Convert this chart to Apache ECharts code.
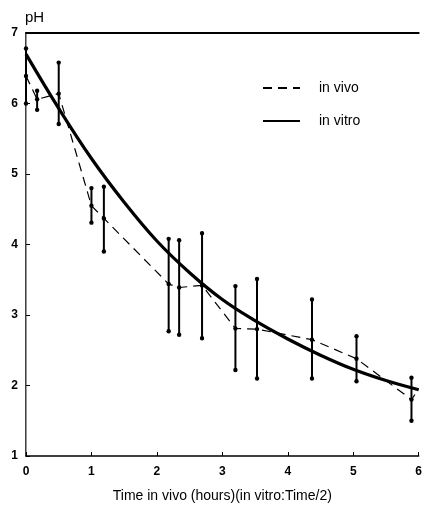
<!DOCTYPE html>
<html><head><meta charset="utf-8">
<script src="https://cdn.jsdelivr.net/npm/echarts@6/dist/echarts.min.js"></script>
<style>html,body{margin:0;padding:0;background:#fff}#c{width:425px;height:513px}</style>
</head><body><div id="c"></div>
<script>
// in vivo: time, mean pH, low, high
var vivoX    = [0,    0.17, 0.5,  1.0,  1.19, 2.18, 2.34, 2.69, 3.20, 3.53, 4.37, 5.05, 5.89];
var vivoMean = [6.39, 6.06, 6.14, 4.55, 4.37, 3.44, 3.39, 3.42, 2.81, 2.80, 2.65, 2.38, 1.80];
var vivoLow  = [6.00, 5.91, 5.71, 4.31, 3.90, 2.77, 2.72, 2.67, 2.22, 2.10, 2.10, 2.06, 1.50];
var vivoHigh = [6.78, 6.18, 6.58, 4.80, 4.82, 4.08, 4.06, 4.16, 3.41, 3.51, 3.22, 2.70, 2.11];
var vivoEnd  = [6.0, 1.95];
// in vitro
var vitroX = [0, 0.5, 1, 1.5, 2, 2.5, 3, 3.5, 4, 4.5, 5, 5.5, 6];
var vitroY = [6.70, 5.93, 5.22, 4.60, 4.05, 3.60, 3.22, 2.92, 2.66, 2.43, 2.23, 2.07, 1.94];
var xTicks = [0, 1, 2, 3, 4, 5, 6];
var yTicks = [1, 2, 3, 4, 5, 6, 7];

var vivoLine = vivoX.map(function(x, i){ return [x, vivoMean[i]]; });
vivoLine.push(vivoEnd);
var vivoBars = vivoX.map(function(x, i){ return [x, vivoMean[i], vivoLow[i], vivoHigh[i]]; });
var vitroLine = vitroX.map(function(x, i){ return [x, vitroY[i]]; });

var font = 'Liberation Sans, Arial, sans-serif';
var chart = echarts.init(document.getElementById('c'));
chart.setOption({
  animation: false,
  grid: {left: 26, right: 3, top: 33, bottom: 57},
  legend: {
    orient: 'vertical', left: 257, top: 76, itemWidth: 37, itemHeight: 14, itemGap: 19,
    itemStyle: {opacity: 0},
    textStyle: {fontFamily: font, fontSize: 14, color: '#000', padding: [0,0,0,14]},
    data: ['in vivo', 'in vitro']
  },
  xAxis: [{
    type: 'value', min: xTicks[0], max: xTicks[xTicks.length-1], interval: 1,
    name: 'Time in vivo (hours)(in vitro:Time/2)', nameLocation: 'middle', nameGap: 33,
    nameTextStyle: {fontFamily: font, fontSize: 14, color: '#000'},
    axisLine: {lineStyle: {color: '#000', width: 1.5}},
    axisTick: {inside: true, length: 4, lineStyle: {color: '#000'}},
    axisLabel: {fontFamily: font, fontSize: 12, fontWeight: 'bold', color: '#000', margin: 10},
    splitLine: {show: false}
  }, {
    type: 'value', position: 'top', min: 0, max: 6,
    axisLine: {show: true, lineStyle: {color: '#000', width: 2}},
    axisTick: {show: false}, axisLabel: {show: false}, splitLine: {show: false}
  }],
  yAxis: [{
    type: 'value', min: yTicks[0], max: yTicks[yTicks.length-1], interval: 1,
    name: 'pH', nameLocation: 'end', nameGap: 8,
    nameTextStyle: {fontFamily: font, fontSize: 15, color: '#000', align: 'left', padding: [0,0,0,-1]},
    axisLine: {lineStyle: {color: '#000', width: 1.5}},
    axisTick: {inside: true, length: 4, lineStyle: {color: '#000'}},
    axisLabel: {fontFamily: font, fontSize: 12, fontWeight: 'bold', color: '#000', margin: 8},
    splitLine: {show: false}
  }, {
    type: 'value', position: 'right', min: 1, max: 7,
    axisLine: {show: true, lineStyle: {color: '#999', width: 1}},
    axisTick: {show: false}, axisLabel: {show: false}, splitLine: {show: false}
  }],
  series: [{
    name: 'in vivo', type: 'line', data: vivoLine, symbol: 'none',
    itemStyle: {color: '#000'},
    lineStyle: {color: '#000', width: 1.2, type: [9, 6]}, z: 3
  }, {
    name: 'in vitro', type: 'line', data: vitroLine, symbol: 'none', smooth: 0.4,
    itemStyle: {color: '#000'},
    lineStyle: {color: '#000', width: 3.2}, z: 4
  }, {
    type: 'custom', data: vivoBars, z: 5,
    renderItem: function(params, api){
      var x = api.value(0);
      var m = api.coord([x, api.value(1)]);
      var lo = api.coord([x, api.value(2)]);
      var hi = api.coord([x, api.value(3)]);
      var st = {fill: '#000'};
      return {type: 'group', children: [
        {type: 'line', shape: {x1: lo[0], y1: lo[1], x2: hi[0], y2: hi[1]}, style: {stroke: '#000', lineWidth: 2}},
        {type: 'circle', shape: {cx: lo[0], cy: lo[1], r: 2.2}, style: st},
        {type: 'circle', shape: {cx: hi[0], cy: hi[1], r: 2.2}, style: st},
        {type: 'circle', shape: {cx: m[0], cy: m[1], r: 2.2}, style: st}
      ]};
    }
  }]
});
</script></body></html>
